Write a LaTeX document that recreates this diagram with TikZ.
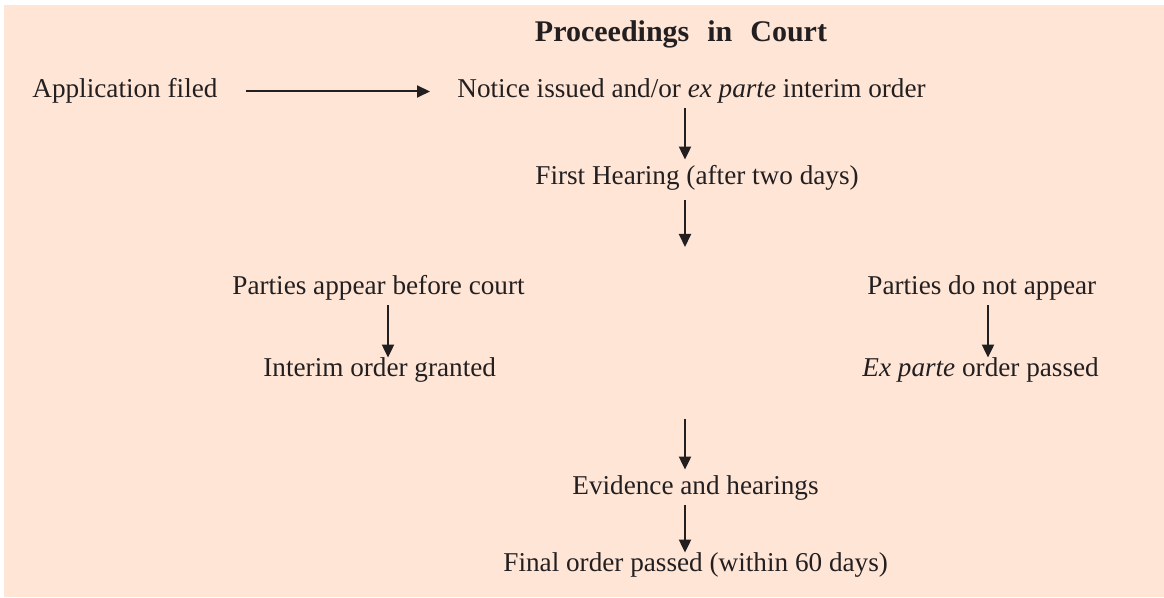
\documentclass[tikz,border=0pt]{standalone}
\usepackage{fontspec}
\setmainfont{Liberation Serif}
\usetikzlibrary{arrows.meta}
\definecolor{peach}{RGB}{254,229,214}
\definecolor{ink}{RGB}{35,31,32}

\begin{document}
\begin{tikzpicture}[x=0.5pt,y=-0.5pt,
        stage/.style={inner xsep=0pt, inner ysep=2.5pt, text height=0.7em, text depth=0.25em, font=\fontsize{13.6}{16}\selectfont, text=ink, anchor=base west},
        heading/.style={inner sep=0pt, font=\fontsize{15}{18}\selectfont\bfseries, text=ink, anchor=base},
        flow/.style={-{Triangle[length=6.5pt,width=6pt]}, line width=1pt, draw=ink},
    ]
    \useasboundingbox (0,0) rectangle (1164,598);
    \fill[peach] (4,5) rectangle (1164,597);

    \node[heading] (Title) at (681,42) {Proceedings\hspace{0.35em} in\hspace{0.35em} Court};

    \node[stage] (App)      at (32,98)   {Application filed};
    \node[stage] (Notice)   at (457,98)  {Notice issued and/or \textit{ex parte} interim order};
    \node[stage] (First)    at (535,185) {First Hearing (after two days)};
    \node[stage] (PartyIn)  at (232,295) {Parties appear before court};
    \node[stage] (Interim)  at (263,377) {Interim order granted};
    \node[stage] (PartyOut) at (867,295) {Parties do not appear};
    \node[stage] (ExParte)  at (862,377) {\textit{Ex parte} order passed};
    \node[stage] (Evidence) at (572,495) {Evidence and hearings};
    \node[stage] (Final)    at (503,572) {Final order passed (within 60 days)};

    \coordinate (Spine) at (685,0);
    \coordinate (LeftX) at (388,0);
    \coordinate (RightX) at (988,0);
    \coordinate (Split) at (685,247);
    \coordinate (Merge) at (685,419);

    \draw[flow, shorten <=14pt, shorten >=13.5pt] ([yshift=1pt]App.east) -- ([yshift=1pt]Notice.west);
    \draw[flow, shorten >=3pt] (Notice.south -| Spine) -- (First.north -| Spine);
    \draw[flow, shorten <=2.5pt] (First.south -| Spine) -- (Split);
    \draw[flow] (PartyIn.south -| LeftX) -- (Interim.north -| LeftX);
    \draw[flow] (PartyOut.south -| RightX) -- (ExParte.north -| RightX);
    \draw[flow, shorten >=3pt] (Merge) -- (Evidence.north -| Spine);
    \draw[flow] (Evidence.south -| Spine) -- (Final.north -| Spine);

\end{tikzpicture}
\end{document}
